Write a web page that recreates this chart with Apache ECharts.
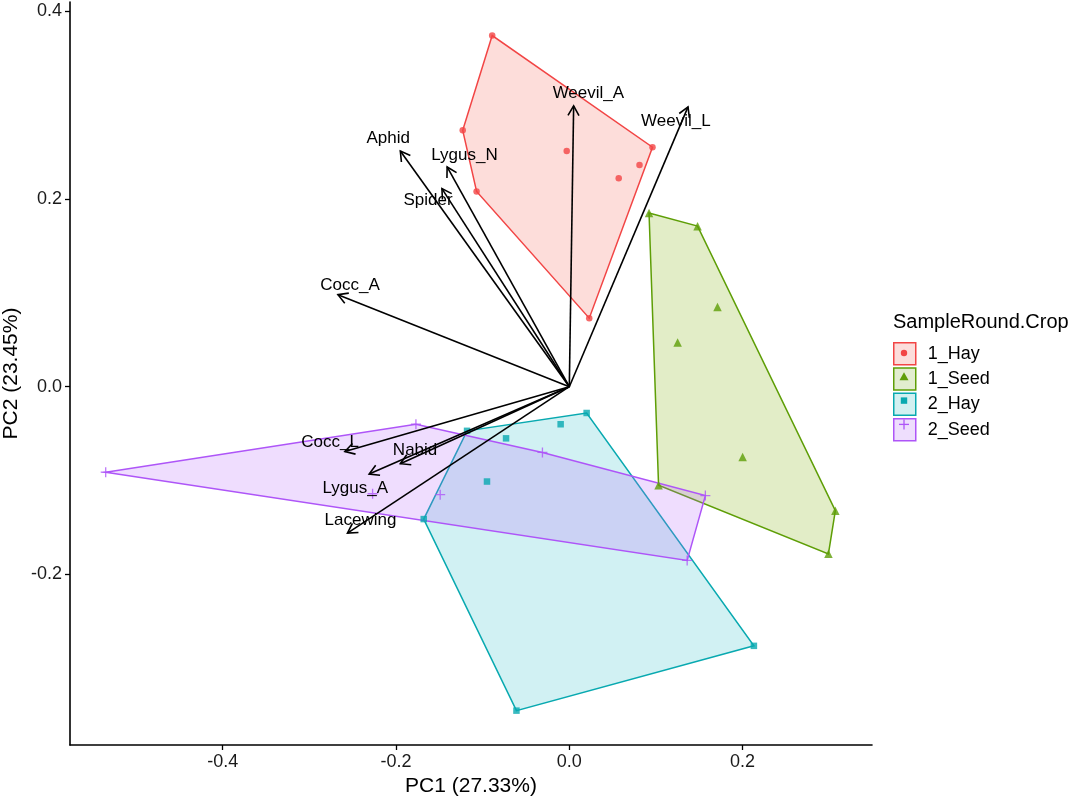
<!DOCTYPE html>
<html>
<head>
<meta charset="utf-8">
<script src="https://cdn.jsdelivr.net/npm/echarts@6/dist/echarts.min.js"></script>
<style>
  html, body { margin: 0; padding: 0; background: #fff; }
  #chart { width: 1084px; height: 799px; }
</style>
</head>
<body>
<div id="chart"></div>
<script>
// PCA scores
var groupNames = ['1_Hay', '1_Seed', '2_Hay', '2_Seed'];

var hay1X = [-0.089, -0.123, -0.107, -0.003, 0.057, 0.081, 0.096, 0.023];
var hay1Y = [0.374, 0.273, 0.208, 0.251, 0.222, 0.236, 0.255, 0.073];

var seed1X = [0.092, 0.148, 0.171, 0.125, 0.200, 0.103, 0.307, 0.299];
var seed1Y = [0.185, 0.171, 0.085, 0.047, -0.075, -0.105, -0.132, -0.178];

var hay2X = [-0.118, 0.020, -0.010, -0.073, -0.095, -0.168, -0.061, 0.213];
var hay2Y = [-0.047, -0.028, -0.040, -0.055, -0.101, -0.141, -0.345, -0.276];

var seed2X = [-0.535, -0.177, -0.227, -0.149, -0.031, 0.157, 0.136];
var seed2Y = [-0.091, -0.040, -0.114, -0.115, -0.070, -0.116, -0.185];

// loading vectors
var varNames = ['Weevil_A', 'Weevil_L', 'Aphid', 'Lygus_N', 'Spider', 'Cocc_A', 'Cocc_L', 'Nabid', 'Lygus_A', 'Lacewing'];
var varX = [0.005, 0.137, -0.195, -0.141, -0.147, -0.267, -0.259, -0.195, -0.231, -0.256];
var varY = [0.299, 0.298, 0.251, 0.234, 0.211, 0.098, -0.069, -0.082, -0.093, -0.156];
// where the names sit
var labelX = [0.022, 0.123, -0.209, -0.121, -0.163, -0.253, -0.276, -0.178, -0.247, -0.241];
var labelY = [0.312, 0.283, 0.264, 0.246, 0.198, 0.108, -0.059, -0.068, -0.108, -0.142];

var xTicks = [-0.4, -0.2, 0.0, 0.2];
var yTicks = [-0.2, 0.0, 0.2, 0.4];

var lineColors = ['#F24545', '#5E9E06', '#08A9B0', '#AE55F8'];
var fillColors = ['rgba(248,118,109,0.25)', 'rgba(124,174,0,0.22)', 'rgba(0,178,186,0.18)', 'rgba(180,100,250,0.22)'];
var keyFills = ['#FCDDDB', '#E2EDCF', '#D2F0F1', '#EEDEFD'];

var groupX = [hay1X, seed1X, hay2X, seed2X];
var groupY = [hay1Y, seed1Y, hay2Y, seed2Y];
var plusPath = 'path://M0,5L10,5M5,0L5,10';
var symbols = ['circle', 'triangle', 'rect', plusPath];
var symbolSizes = [6.5, 8.5, 6.5, 10];
var fontFam = 'Liberation Sans, Arial, sans-serif';

function zip(xs, ys) {
    var out = [];
    for (var i = 0; i < xs.length; i++) out.push([xs[i], ys[i]]);
    return out;
}

// convex hull (monotone chain), like chull() in R
function hull(pts) {
    var p = pts.slice().sort(function (a, b) { return a[0] - b[0] || a[1] - b[1]; });
    function cross(o, a, b) { return (a[0] - o[0]) * (b[1] - o[1]) - (a[1] - o[1]) * (b[0] - o[0]); }
    var lower = [], upper = [];
    p.forEach(function (q) {
        while (lower.length >= 2 && cross(lower[lower.length - 2], lower[lower.length - 1], q) <= 0) lower.pop();
        lower.push(q);
    });
    for (var i = p.length - 1; i >= 0; i--) {
        var q = p[i];
        while (upper.length >= 2 && cross(upper[upper.length - 2], upper[upper.length - 1], q) <= 0) upper.pop();
        upper.push(q);
    }
    upper.pop(); lower.pop();
    return lower.concat(upper);
}

var series = [];

// hull polygons
groupNames.forEach(function (name, g) {
    var h = hull(zip(groupX[g], groupY[g]));
    series.push({
        name: name,
        type: 'custom',
        silent: true,
        z: 1,
        itemStyle: { color: keyFills[g] },
        data: h,
        renderItem: function (params, api) {
            if (params.dataIndex !== 0) return;
            var pts = h.map(function (q) { return api.coord(q); });
            return {
                type: 'polygon',
                shape: { points: pts },
                style: { fill: fillColors[g], stroke: lineColors[g], lineWidth: 1.5 }
            };
        }
    });
});

// sample points
groupNames.forEach(function (name, g) {
    var isPlus = g === 3;
    series.push({
        name: name,
        type: 'scatter',
        z: 3,
        symbol: symbols[g],
        symbolSize: symbolSizes[g],
        itemStyle: isPlus
            ? { color: 'rgba(0,0,0,0)', borderColor: lineColors[g], borderWidth: 1.3 }
            : { color: lineColors[g] },
        data: zip(groupX[g], groupY[g])
    });
});

// loading arrows with open heads
series.push({
    type: 'custom',
    silent: true,
    z: 4,
    data: zip(varX, varY),
    renderItem: function (params, api) {
        var p0 = api.coord([0, 0]);
        var p1 = api.coord([api.value(0), api.value(1)]);
        var ang = Math.atan2(p1[1] - p0[1], p1[0] - p0[0]);
        var len = 11, spread = Math.PI / 6;
        var a = [p1[0] - len * Math.cos(ang - spread), p1[1] - len * Math.sin(ang - spread)];
        var b = [p1[0] - len * Math.cos(ang + spread), p1[1] - len * Math.sin(ang + spread)];
        var st = { stroke: '#000', lineWidth: 1.6, fill: null };
        return {
            type: 'group',
            children: [
                { type: 'line', shape: { x1: p0[0], y1: p0[1], x2: p1[0], y2: p1[1] }, style: st },
                { type: 'polyline', shape: { points: [a, p1, b] }, style: st }
            ]
        };
    }
});

// variable names
series.push({
    type: 'custom',
    silent: true,
    z: 5,
    data: varNames.map(function (n, i) { return [labelX[i], labelY[i]]; }),
    renderItem: function (params, api) {
        var p = api.coord([api.value(0), api.value(1)]);
        return {
            type: 'text',
            x: p[0],
            y: p[1],
            style: {
                text: varNames[params.dataIndex],
                fill: '#000',
                font: '17px ' + fontFam,
                align: 'center',
                verticalAlign: 'middle'
            }
        };
    }
});

var legendY0 = 342, legendStep = 23.8, keyX = 904;
function keyY(i) { return legendY0 + i * legendStep + 11; }
var keyGraphics = [
    { type: 'circle', shape: { cx: keyX, cy: keyY(0), r: 3.2 }, style: { fill: lineColors[0] } },
    { type: 'polygon', shape: { points: [[keyX - 4.5, keyY(1) + 3.5], [keyX + 4.5, keyY(1) + 3.5], [keyX, keyY(1) - 4.5]] }, style: { fill: lineColors[1] } },
    { type: 'rect', shape: { x: keyX - 3.2, y: keyY(2) - 3.2, width: 6.4, height: 6.4 }, style: { fill: lineColors[2] } },
    { type: 'polyline', shape: { points: [[keyX - 5, keyY(3)], [keyX + 5, keyY(3)]] }, style: { stroke: lineColors[3], lineWidth: 1.3 } },
    { type: 'polyline', shape: { points: [[keyX, keyY(3) - 5], [keyX, keyY(3) + 5]] }, style: { stroke: lineColors[3], lineWidth: 1.3 } }
];
keyGraphics.forEach(function (g) { g.z = 100; });

var option = {
    animation: false,
    backgroundColor: '#fff',
    title: {
        text: 'SampleRound.Crop',
        left: 893,
        top: 312,
        padding: 0,
        textStyle: { fontFamily: fontFam, fontSize: 20, fontWeight: 'normal', color: '#000' }
    },
    legend: {
        orient: 'vertical',
        left: 893,
        top: legendY0,
        padding: 0,
        itemWidth: 22,
        itemHeight: 22,
        itemGap: 1.8,
        selectedMode: false,
        textStyle: { fontFamily: fontFam, fontSize: 18, lineHeight: 22, color: '#000', padding: [0, 0, 0, 7] },
        data: groupNames.map(function (n, g) {
            return { name: n, icon: 'rect', itemStyle: { color: keyFills[g], borderColor: lineColors[g], borderWidth: 1.5 } };
        })
    },
    graphic: keyGraphics,
    grid: { left: 70, right: 212, top: 2, bottom: 54, containLabel: false, outerBoundsMode: 'none' },
    xAxis: {
        type: 'value',
        min: -0.5762,
        max: 0.3493,
        name: 'PC1 (27.33%)',
        nameLocation: 'middle',
        nameGap: 28,
        nameTextStyle: { fontFamily: fontFam, fontSize: 21, color: '#000' },
        axisLine: { show: true, onZero: false, lineStyle: { color: '#000', width: 1.6 } },
        axisTick: { show: true, length: 5, customValues: xTicks, lineStyle: { color: '#000', width: 1.3 } },
        axisLabel: { customValues: xTicks, margin: 8, formatter: function (v) { return v.toFixed(1); }, fontFamily: fontFam, fontSize: 18, color: '#1a1a1a' },
        splitLine: { show: false }
    },
    yAxis: {
        type: 'value',
        min: -0.3816,
        max: 0.4097,
        name: 'PC2 (23.45%)',
        nameLocation: 'middle',
        nameGap: 48,
        nameMoveOverlap: false,
        nameTextStyle: { fontFamily: fontFam, fontSize: 21, color: '#000' },
        axisLine: { show: true, onZero: false, lineStyle: { color: '#000', width: 1.6 } },
        axisTick: { show: true, length: 5, customValues: yTicks, lineStyle: { color: '#000', width: 1.3 } },
        axisLabel: { customValues: yTicks, margin: 8, formatter: function (v) { return v.toFixed(1); }, fontFamily: fontFam, fontSize: 18, color: '#1a1a1a' },
        splitLine: { show: false }
    },
    series: series
};

var myChart = echarts.init(document.getElementById('chart'));
myChart.setOption(option);
</script>
</body>
</html>
